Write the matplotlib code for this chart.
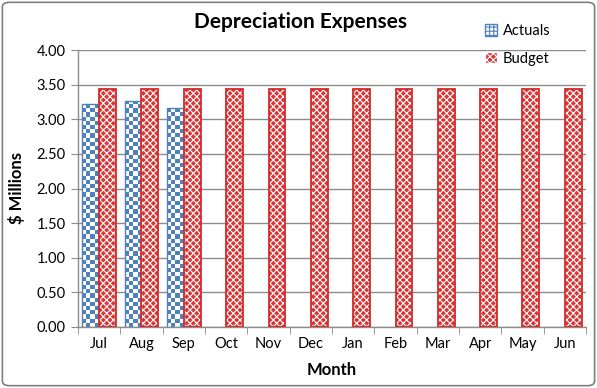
import matplotlib
matplotlib.use("Agg")
import matplotlib.pyplot as plt
import numpy as np
from matplotlib.patches import FancyBboxPatch, Patch
from matplotlib.colors import ListedColormap

months = ["Jul", "Aug", "Sep", "Oct", "Nov", "Dec", "Jan", "Feb", "Mar", "Apr", "May", "Jun"]
actuals = [3.22, 3.27, 3.16]
budget = [3.43] * 12
yticks = [0.0, 0.5, 1.0, 1.5, 2.0, 2.5, 3.0, 3.5, 4.0]

plt.rcParams['font.family'] = ['Lato', 'DejaVu Sans']
plt.rcParams['hatch.linewidth'] = 0.8

BLUE = '#4F81BD'
RED = '#D42A2A'
GRID = '#8C8C8C'

fig = plt.figure(figsize=(5.97, 3.88), dpi=100)
fig.patches.append(FancyBboxPatch((0.004, 0.006), 0.992, 0.988, boxstyle="round,pad=0,rounding_size=0.012",
                                  transform=fig.transFigure, fill=False, edgecolor='#7F7F7F', linewidth=1.2))
ax = fig.add_axes([78/597, 1-327/388, 508/597, 277/388])

x = np.arange(len(months))
w = 0.4
ax.set_xlim(-0.5, len(months) - 0.5)
ax.set_ylim(0, 4.0)

# Actuals: checkerboard texture clipped to each bar
abars = ax.bar(x[:len(actuals)] - w/2, actuals, width=w, facecolor='none', edgecolor=BLUE, linewidth=1.0, zorder=3)
cmap = ListedColormap(['white', BLUE])
for b in abars:
    x0, y0 = b.get_x(), b.get_y()
    bw, bh = b.get_width(), b.get_height()
    ncol = 4
    nrow = int(round(bh / 4.0 * 277 / 4.2))
    arr = (np.add.outer(np.arange(nrow), np.arange(ncol)) % 2).astype(float)
    im = ax.imshow(arr, extent=(x0, x0 + bw, y0, y0 + bh), origin='lower', cmap=cmap,
                   interpolation='nearest', aspect='auto', zorder=2)
    im.set_clip_path(b)

# Budget bars: red with white pattern
ax.bar(x + w/2, budget, width=w, facecolor='#DC3434', edgecolor='white', hatch='xxxxx', linewidth=0, zorder=3)
ax.bar(x + w/2, budget, width=w, facecolor='none', edgecolor=RED, linewidth=1.3, zorder=4)

ax.set_xlim(-0.5, len(months) - 0.5)
ax.set_ylim(0, 4.0)
ax.set_yticks(yticks)
ax.set_yticklabels([f"{v:.2f}" for v in yticks], fontsize=10.5)
ax.set_xticks(x)
ax.set_xticklabels(months, fontsize=10.5)
ax.set_xticks(np.arange(-0.5, len(months)), minor=True)
ax.tick_params(axis='x', which='major', length=0, pad=7)
ax.tick_params(axis='x', which='minor', length=5, color=GRID)
ax.tick_params(axis='y', length=5, color=GRID, pad=4)
ax.yaxis.grid(True, color=GRID, linewidth=1.0, zorder=0)
ax.set_axisbelow(True)
for s in ['top', 'right']:
    ax.spines[s].set_visible(False)
for s in ['left', 'bottom']:
    ax.spines[s].set_color(GRID)
    ax.spines[s].set_linewidth(1.0)

ax.set_ylabel("$ Millions", fontsize=12, fontweight='bold', labelpad=8)
ax.set_xlabel("Month", fontsize=12, fontweight='bold', labelpad=8)
fig.text(0.503, 0.943, "Depreciation Expenses", ha='center', va='center', fontsize=15, fontweight='bold')

handles = [Patch(facecolor='white', edgecolor=BLUE, hatch='++++', label='Actuals'),
           Patch(facecolor='#DC3434', edgecolor='white', hatch='xxxxx', label='Budget')]
fig.legend(handles=handles, loc='upper left', bbox_to_anchor=(472/597, 1-11/388), frameon=False,
           fontsize=10.5, handlelength=0.8, handleheight=0.8, handletextpad=0.4, labelspacing=0.95)

fig.savefig("out.png", dpi=100)
